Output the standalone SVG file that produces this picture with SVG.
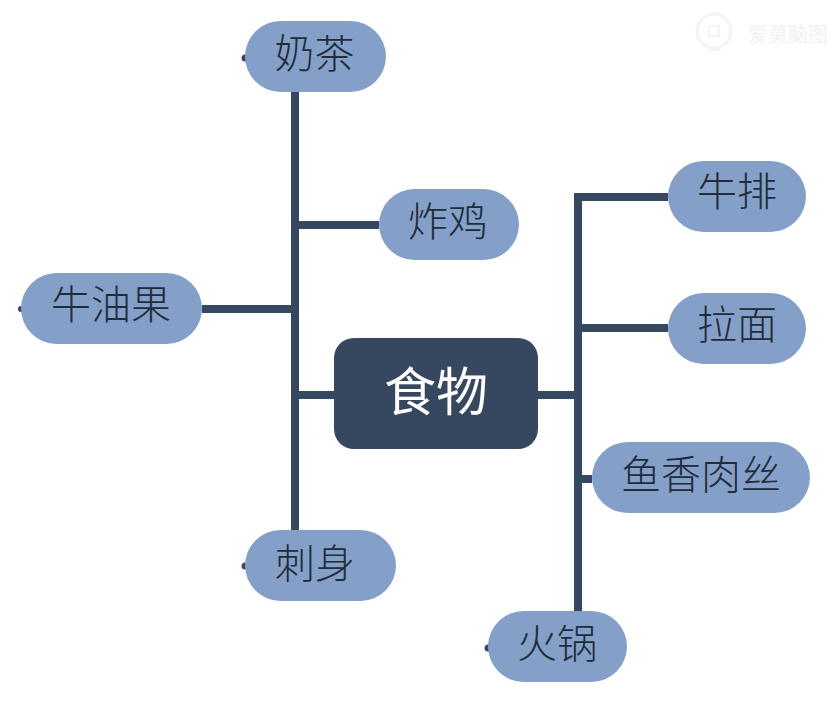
<svg xmlns="http://www.w3.org/2000/svg" width="832" height="704" viewBox="0 0 832 704">
<style>
.n{fill:#84a0c8}
.t{font-family:"Noto Sans CJK SC","Noto Sans",sans-serif;font-size:40px;font-weight:300;fill:#222c3a;text-anchor:middle}
.c{stroke:#36485f;stroke-width:8;fill:none}
.d{fill:#36485f}
</style>
<rect width="832" height="704" fill="#ffffff"/>
<g id="watermark" opacity="0.55">
<circle cx="714" cy="31" r="17" fill="none" stroke="#ececec" stroke-width="3"/>
<rect x="709" y="26" width="10" height="10" fill="none" stroke="#ececec" stroke-width="2"/>
<path d="M707 50h14" stroke="#ececec" stroke-width="2"/>
<text x="788" y="42" font-family="'Noto Sans CJK SC',sans-serif" font-size="20" fill="#e6e6e6" text-anchor="middle">爱莫脑图</text>
</g>
<g id="connectors">
<path class="c" d="M295 92V530"/>
<path class="c" d="M295 225H379"/>
<path class="c" d="M202 309H295"/>
<path class="c" d="M291 395H334"/>
<path class="c" d="M668 197H578V611"/>
<path class="c" d="M578 328H668"/>
<path class="c" d="M538 395H578"/>
<path class="c" d="M578 479H592"/>
</g>
<g id="node-milktea"><circle class="d" cx="245" cy="58" r="3.5"/><rect class="n" x="245" y="21" width="141" height="71" rx="35.5"/><text class="t" x="314.5" y="68">奶茶</text></g>
<g id="node-chicken"><rect class="n" x="379" y="189" width="140" height="71" rx="35.5"/><text class="t" x="448" y="236">炸鸡</text></g>
<g id="node-avocado"><circle class="d" cx="21" cy="309" r="3"/><rect class="n" x="21" y="273" width="181" height="71" rx="35.5"/><text class="t" x="111" y="319">牛油果</text></g>
<g id="node-sashimi"><circle class="d" cx="245" cy="566" r="3.5"/><rect class="n" x="245" y="530" width="151" height="71" rx="35.5"/><text class="t" x="315" y="578">刺身</text></g>
<g id="node-root"><rect x="334" y="338" width="204" height="111" rx="20" fill="#36475f"/><text x="436" y="411" font-family="'Noto Sans CJK SC',sans-serif" font-size="52" fill="#ffffff" text-anchor="middle">食物</text></g>
<g id="node-steak"><rect class="n" x="668" y="161" width="138" height="71" rx="35.5"/><text class="t" x="737" y="206">牛排</text></g>
<g id="node-ramen"><rect class="n" x="668" y="293" width="138" height="71" rx="35.5"/><text class="t" x="737" y="339">拉面</text></g>
<g id="node-pork"><rect class="n" x="592" y="442" width="218" height="71" rx="35.5"/><text class="t" x="701" y="489">鱼香肉丝</text></g>
<g id="node-hotpot"><circle class="d" cx="488" cy="648" r="3.5"/><rect class="n" x="488" y="611" width="139" height="71" rx="35.5"/><text class="t" x="557" y="658">火锅</text></g>
</svg>
